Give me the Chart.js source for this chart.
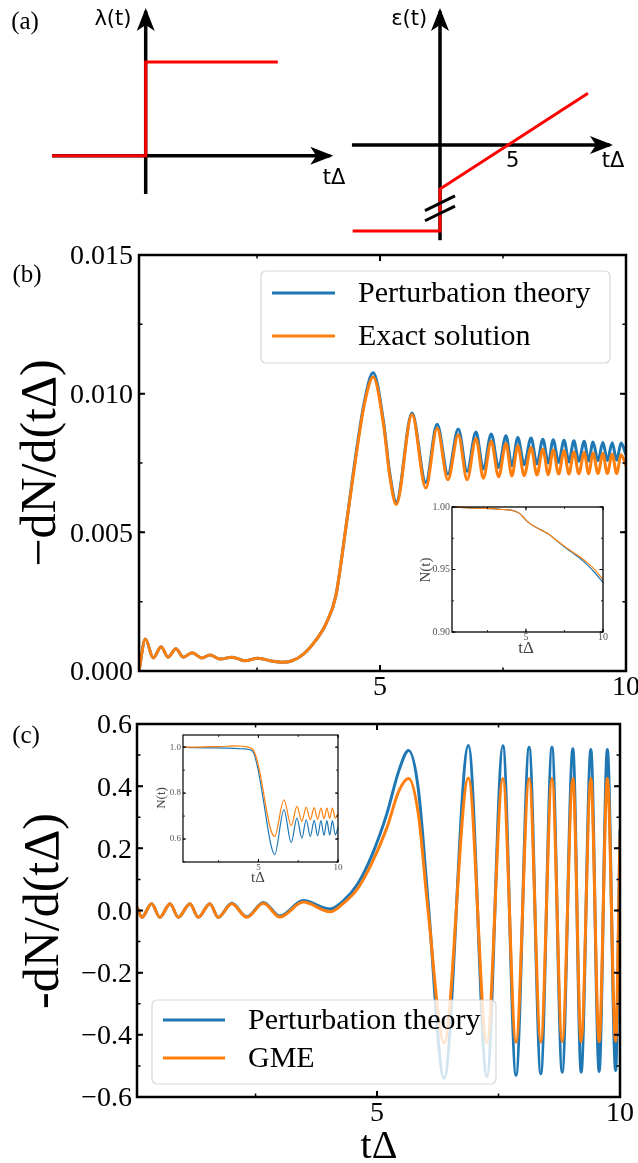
<!DOCTYPE html>
<html>
<head>
<meta charset="utf-8">
<title>Transition rate</title>
<script src="https://cdn.jsdelivr.net/npm/chart.js@4.4.1/dist/chart.umd.min.js"></script>
<style>
  html, body { margin: 0; padding: 0; background: #fff; }
  body { position: relative; width: 638px; height: 1163px; overflow: hidden; }
  canvas { position: absolute; }
</style>
</head>
<body>
<canvas id="lambdaPlot" width="360" height="200" style="left:0px;top:0px"></canvas>
<canvas id="epsPlot" width="298" height="245" style="left:340px;top:0px"></canvas>
<canvas id="rateB" width="638" height="470" style="left:0px;top:240px"></canvas>
<canvas id="insetB" width="230" height="170" style="left:400px;top:490px"></canvas>
<canvas id="rateC" width="638" height="463" style="left:0px;top:700px"></canvas>
<canvas id="insetC" width="215" height="165" style="left:140px;top:725px"></canvas>
<script>
// ---- (a) schematic protocols ----
const lambdaAxisT = [-1, 1.97];
const lambdaAxisV = [0, 0];
const lambdaVertV = [-0.41, 1.544];
const lambdaT = [-1, 0, 0, 1.41];
const lambdaV = [0, 0, 1, 1];

const epsAxisT = [-6.29, 12.14];
const epsAxisV = [0, 0];
const epsVertV = [-6.8, 9.57];
const epsT = [-6.24, 0, 0, 10.57];
const epsV = [-6.14, -6.14, -3.14, 3.7];
const breakT = [-1.07, 1.07];
const breakUpper = [-4.69, -3.64];
const breakLower = [-5.41, -4.36];

// ---- (b) rate, perturbation theory vs exact ----
const bTime = [0.1, 0.23, 0.39, 0.55, 0.69, 0.85, 1.0, 1.18, 1.38, 1.54,
  1.75, 1.99, 2.25, 2.52, 2.82, 3.0, 3.2, 3.45, 3.7, 3.9,
  4.1, 4.3, 4.5, 4.68, 4.86, 5.07, 5.2, 5.33, 5.65, 5.93,
  6.16, 6.38, 6.59, 6.77, 6.95, 7.1, 7.26, 7.41, 7.56, 7.68,
  7.8, 7.93, 8.07, 8.19, 8.31, 8.42, 8.52, 8.63, 8.74, 8.84,
  8.94, 9.04, 9.15, 9.24, 9.33, 9.43, 9.53, 9.62, 9.72, 9.81,
  9.9, 10.0];
const bPerturbation = [0, 0.00115, 0.00047, 0.00087, 0.0005, 0.0008, 0.0005, 0.00066, 0.00047, 0.00058,
  0.00043, 0.0005, 0.00037, 0.00046, 0.00035, 0.00032, 0.00036, 0.00062, 0.00112, 0.0017,
  0.0027, 0.0051, 0.0077, 0.0097, 0.01075, 0.009, 0.0071, 0.0061, 0.0093, 0.0068,
  0.0089, 0.0071, 0.00873, 0.0072, 0.00862, 0.00728, 0.00855, 0.00734, 0.00848, 0.0074,
  0.00842, 0.00744, 0.0084, 0.00747, 0.00836, 0.0075, 0.00834, 0.00752, 0.00832, 0.00754,
  0.0083, 0.00756, 0.00828, 0.00757, 0.00826, 0.00758, 0.00825, 0.00759, 0.00823, 0.0076,
  0.00822, 0.0078];
const bExact = [0, 0.00115, 0.00047, 0.00087, 0.0005, 0.0008, 0.0005, 0.00066, 0.00047, 0.00058,
  0.00043, 0.0005, 0.00037, 0.00046, 0.00035, 0.00032, 0.00036, 0.00062, 0.00112, 0.0017,
  0.0027, 0.0051, 0.0076, 0.0096, 0.0106, 0.0089, 0.007, 0.006, 0.00925, 0.0066,
  0.00875, 0.0069, 0.00852, 0.0069, 0.00838, 0.00695, 0.00828, 0.007, 0.0082, 0.00703,
  0.00812, 0.00705, 0.00806, 0.00707, 0.008, 0.00708, 0.00797, 0.0071, 0.00794, 0.0071,
  0.0079, 0.00711, 0.00788, 0.00711, 0.00786, 0.00712, 0.00784, 0.00712, 0.00782, 0.00712,
  0.0078, 0.0074];

const bInsetTime = [0.2, 1, 2, 3, 3.5, 4, 4.3, 4.6, 4.8, 5.0, 5.2, 5.5, 6, 6.5, 7, 7.5, 8, 8.5, 9, 9.5, 10];
const bInsetPerturbation = [1.0, 0.9995, 0.999, 0.9985, 0.998, 0.9975, 0.9966, 0.9947, 0.9922, 0.9895, 0.9873,
  0.9848, 0.9815, 0.978, 0.973, 0.968, 0.9635, 0.959, 0.9535, 0.947, 0.9395];
const bInsetExact = [1.0, 0.9995, 0.999, 0.9985, 0.998, 0.9975, 0.9966, 0.9947, 0.9922, 0.9895, 0.9873,
  0.9848, 0.9815, 0.978, 0.9732, 0.9685, 0.9642, 0.96, 0.9553, 0.9495, 0.9418];

// ---- (c) rate, perturbation theory vs GME ----
const cTime = [0.06, 0.16, 0.36, 0.53, 0.74, 0.91, 1.15, 1.32, 1.56, 1.73,
  2.01, 2.32, 2.66, 3.0, 3.48, 4.03, 4.3, 4.6, 4.9, 5.2,
  5.45, 5.65, 5.85, 6.05, 6.38, 6.88, 7.26, 7.59, 7.86, 8.13,
  8.37, 8.6, 8.81, 9.03, 9.2, 9.4, 9.57, 9.74, 9.91, 10.0];
const cPerturbation = [0.012, -0.022, 0.022, -0.022, 0.022, -0.022, 0.022, -0.022, 0.022, -0.022,
  0.023, -0.02, 0.026, -0.018, 0.032, 0.005, 0.03, 0.085, 0.18, 0.31,
  0.45, 0.515, 0.39, 0.03, -0.54, 0.531, -0.535, 0.53, -0.53, 0.525,
  -0.525, 0.525, -0.52, 0.52, -0.52, 0.518, -0.518, 0.518, -0.515, 0.26];
const cGME = [0.012, -0.022, 0.022, -0.022, 0.022, -0.022, 0.022, -0.022, 0.022, -0.022,
  0.022, -0.022, 0.023, -0.021, 0.027, -0.004, 0.022, 0.07, 0.155, 0.265,
  0.385, 0.425, 0.31, 0.0, -0.426, 0.426, -0.425, 0.425, -0.424, 0.425,
  -0.423, 0.425, -0.422, 0.425, -0.422, 0.425, -0.422, 0.425, -0.42, 0.24];

const cInsetTime = [0.28, 1.0, 2.0, 3.0, 3.5, 4.0, 4.4, 4.7, 5.0, 5.3,
  5.55, 5.8, 6.02, 6.6, 7.06, 7.42, 7.73, 8.0, 8.26, 8.5,
  8.72, 8.93, 9.12, 9.3, 9.48, 9.65, 9.83, 10.0];
const cInsetPerturbation = [1.0, 0.998, 0.997, 0.996, 0.995, 0.993, 0.99, 0.975, 0.895, 0.775,
  0.665, 0.57, 0.532, 0.727, 0.585, 0.691, 0.604, 0.684, 0.611, 0.681,
  0.614, 0.68, 0.616, 0.68, 0.617, 0.68, 0.618, 0.65];
const cInsetGME = [1.0, 1.0, 1.002, 1.004, 1.006, 1.004, 0.999, 0.985, 0.92, 0.81,
  0.71, 0.635, 0.611, 0.771, 0.658, 0.742, 0.677, 0.739, 0.684, 0.737,
  0.686, 0.735, 0.688, 0.735, 0.69, 0.735, 0.69, 0.712];

// tick labels
const timeTicks = ['5', '10'];
const bRateTicks = ['0.000', '0.005', '0.010', '0.015'];
const cRateTicks = ['\u22120.6', '\u22120.4', '\u22120.2', '0.0', '0.2', '0.4', '0.6'];
const bInsetTicks = ['0.90', '0.95', '1.00'];
const cInsetTicks = ['0.6', '0.8', '1.0'];

const BLUE = '#1f77b4';
const ORANGE = '#ff7f0e';
const RED = '#ff0000';
const SERIF = '"Liberation Serif", "DejaVu Serif", serif';
const SANS = '"DejaVu Sans", sans-serif';

const pts = (xs, ys) => xs.map((x, i) => ({ x: x, y: ys[i] }));
const toNum = s => parseFloat(String(s).replace('\u2212', '-'));

// order: lower values are painted later (on top)
function curve(label, xs, ys, color, width, order) {
  return {
    label: label, data: pts(xs, ys), borderColor: color, borderWidth: width,
    pointRadius: 0, fill: false, cubicInterpolationMode: 'monotone',
    borderJoinStyle: 'round', clip: 1, order: order
  };
}

function segment(xs, ys, color, width, order, arrow) {
  return {
    data: pts(xs, ys), borderColor: color, borderWidth: width,
    pointRadius: 0, fill: false, clip: false, order: order, arrow: !!arrow
  };
}

// box, inward ticks on all four sides, tick labels and titles
function framePlugin(cfg) {
  return {
    id: 'frame',
    beforeDatasetsDraw(chart) {
      if (!cfg.fill) return;
      const a = chart.chartArea, ctx = chart.ctx;
      ctx.save();
      ctx.fillStyle = cfg.fill;
      ctx.fillRect(a.left, a.top, a.right - a.left, a.bottom - a.top);
      ctx.restore();
    },
    afterDatasetsDraw(chart) {
      const ctx = chart.ctx, a = chart.chartArea;
      const sx = chart.scales.x, sy = chart.scales.y;
      const steps = (sc, step) => {
        const out = [];
        for (let k = Math.ceil(sc.min / step - 1e-6); k * step <= sc.max + 1e-9; k++) out.push(k * step);
        return out;
      };
      ctx.save();
      ctx.strokeStyle = '#000';
      const tickX = (v, len, w) => {
        const p = sx.getPixelForValue(v);
        ctx.lineWidth = w;
        ctx.beginPath();
        ctx.moveTo(p, a.bottom); ctx.lineTo(p, a.bottom - len);
        ctx.moveTo(p, a.top); ctx.lineTo(p, a.top + len);
        ctx.stroke();
      };
      const tickY = (v, len, w) => {
        const p = sy.getPixelForValue(v);
        ctx.lineWidth = w;
        ctx.beginPath();
        ctx.moveTo(a.left, p); ctx.lineTo(a.left + len, p);
        ctx.moveTo(a.right, p); ctx.lineTo(a.right - len, p);
        ctx.stroke();
      };
      steps(sx, cfg.xMinor).forEach(v => tickX(v, cfg.minorLen, cfg.minorWidth));
      steps(sy, cfg.yMinor).forEach(v => tickY(v, cfg.minorLen, cfg.minorWidth));
      cfg.xTicks.forEach(t => tickX(toNum(t), cfg.majorLen, cfg.majorWidth));
      cfg.yTicks.forEach(t => tickY(toNum(t), cfg.majorLen, cfg.majorWidth));
      ctx.lineWidth = cfg.spine;
      ctx.strokeRect(a.left, a.top, a.right - a.left, a.bottom - a.top);

      ctx.fillStyle = cfg.labelColor || '#000';
      ctx.font = cfg.tickFont;
      ctx.textAlign = 'center';
      ctx.textBaseline = 'middle';
      cfg.xTicks.forEach(t => ctx.fillText(t, sx.getPixelForValue(toNum(t)), a.bottom + cfg.xPad));
      ctx.textAlign = 'right';
      cfg.yTicks.forEach(t => ctx.fillText(t, a.left - cfg.yPad, sy.getPixelForValue(toNum(t)) + cfg.yShift));

      (cfg.texts || []).forEach(tx => {
        ctx.save();
        ctx.font = tx.font;
        ctx.fillStyle = tx.color || '#000';
        ctx.textAlign = 'center';
        ctx.textBaseline = 'middle';
        ctx.translate(tx.x, tx.y);
        if (tx.rotate) ctx.rotate(-Math.PI / 2);
        ctx.fillText(tx.text, 0, 0);
        ctx.restore();
      });
      ctx.restore();
    }
  };
}

// matplotlib-like framed legend, semi transparent
function legendPlugin(cfg) {
  return {
    id: 'boxLegend',
    afterDraw(chart) {
      const ctx = chart.ctx;
      const [x, y, w, h] = cfg.box;
      ctx.save();
      ctx.beginPath();
      if (ctx.roundRect) ctx.roundRect(x, y, w, h, 5); else ctx.rect(x, y, w, h);
      ctx.fillStyle = 'rgba(255,255,255,0.8)';
      ctx.fill();
      ctx.strokeStyle = 'rgba(204,204,204,0.8)';
      ctx.lineWidth = 1.2;
      ctx.stroke();
      ctx.font = cfg.font;
      ctx.textAlign = 'left';
      ctx.textBaseline = 'middle';
      chart.data.datasets.forEach((ds, i) => {
        const ry = cfg.rows[i];
        ctx.strokeStyle = ds.borderColor;
        ctx.lineWidth = ds.borderWidth;
        ctx.beginPath();
        ctx.moveTo(cfg.line[0], ry);
        ctx.lineTo(cfg.line[1], ry);
        ctx.stroke();
        ctx.fillStyle = '#000';
        ctx.fillText(ds.label, cfg.textX, ry + 1);
      });
      ctx.restore();
    }
  };
}

const arrowPlugin = {
  id: 'arrows',
  afterDatasetsDraw(chart) {
    const ctx = chart.ctx;
    chart.data.datasets.forEach((ds, i) => {
      if (!ds.arrow) return;
      const el = chart.getDatasetMeta(i).data;
      const p = el[el.length - 1], q = el[el.length - 2];
      const ang = Math.atan2(p.y - q.y, p.x - q.x);
      ctx.save();
      ctx.translate(p.x, p.y);
      ctx.rotate(ang);
      ctx.fillStyle = ds.borderColor;
      ctx.beginPath();
      ctx.moveTo(3, 0);
      ctx.lineTo(-20, -9);
      ctx.lineTo(-14, 0);
      ctx.lineTo(-20, 9);
      ctx.closePath();
      ctx.fill();
      ctx.restore();
    });
  }
};

function notesPlugin(items, panel) {
  return {
    id: 'notes',
    afterDraw(chart) {
      const ctx = chart.ctx;
      ctx.save();
      ctx.fillStyle = '#000';
      ctx.textAlign = 'center';
      ctx.textBaseline = 'middle';
      items.forEach(n => {
        ctx.font = n.font;
        ctx.fillText(n.text, chart.scales.x.getPixelForValue(n.x), chart.scales.y.getPixelForValue(n.y));
      });
      if (panel) {
        ctx.font = panel.font;
        ctx.fillText(panel.text, panel.px, panel.py);
      }
      ctx.restore();
    }
  };
}

function makeChart(id, datasets, xRange, yRange, padding, plugins) {
  return new Chart(document.getElementById(id), {
    type: 'line',
    data: { datasets: datasets },
    options: {
      responsive: false,
      animation: false,
      devicePixelRatio: 1,
      events: [],
      layout: { padding: padding },
      scales: {
        x: { type: 'linear', display: false, min: xRange[0], max: xRange[1] },
        y: { type: 'linear', display: false, min: yRange[0], max: yRange[1] }
      },
      plugins: { legend: { display: false }, tooltip: { enabled: false } }
    },
    plugins: plugins
  });
}

// (a) left: lambda(t)
makeChart('lambdaPlot', [
  segment(lambdaAxisT, lambdaAxisV, '#000', 3.5, 2, true),
  segment([0, 0], lambdaVertV, '#000', 3.5, 2, true),
  segment(lambdaT, lambdaV, RED, 3, 1)
], [-1.555, 2.287], [-0.473, 1.662], 0, [arrowPlugin, notesPlugin([
  { text: '\u03bb(t)', x: -0.35, y: 1.45, font: '21px ' + SANS },
  { text: 't\u0394', x: 2.01, y: -0.24, font: '21px ' + SANS }
], { text: '(a)', px: 25, py: 22, font: '25px ' + SERIF })]);

// (a) right: epsilon(t)
makeChart('epsPlot', [
  segment(epsAxisT, epsAxisV, '#000', 3.5, 2, true),
  segment([0, 0], epsVertV, '#000', 3.5, 2, true),
  segment(epsT, epsV, RED, 3, 1),
  segment(breakT, breakUpper, '#000', 3, 0),
  segment(breakT, breakLower, '#000', 3, 0)
], [-7.143, 14.143], [-7.143, 10.357], 0, [arrowPlugin, notesPlugin([
  { text: '\u03b5(t)', x: -2.2, y: 8.93, font: '21px ' + SANS },
  { text: '5', x: 5.2, y: -1.2, font: '21px ' + SANS },
  { text: 't\u0394', x: 12.36, y: -1.2, font: '21px ' + SANS }
])]);

// (b) main
makeChart('rateB', [
  curve('Perturbation theory', bTime, bPerturbation, BLUE, 3, 1),
  curve('Exact solution', bTime, bExact, ORANGE, 3, 0)
], [0.1, 10], [0, 0.015], { left: 139, right: 12, top: 15, bottom: 39 }, [
  framePlugin({
    xTicks: timeTicks, yTicks: bRateTicks, xMinor: 2.5, yMinor: 0.0025,
    spine: 2.5, majorLen: 6, minorLen: 3.5, majorWidth: 2, minorWidth: 1.5,
    tickFont: '28px ' + SERIF, xPad: 17, yPad: 6, yShift: 2,
    texts: [
      { text: '(b)', x: 27, y: 35, font: '25px ' + SERIF },
      { text: '\u2212dN/d(t\u0394)', x: 42, y: 223, rotate: true, font: '50px ' + SERIF }
    ]
  }),
  legendPlugin({ box: [261, 31, 349, 92], rows: [53, 96], line: [272, 335], textX: 358, font: '30px ' + SERIF })
]);

// (b) inset
makeChart('insetB', [
  curve('Perturbation theory', bInsetTime, bInsetPerturbation, BLUE, 1.2, 1),
  curve('Exact solution', bInsetTime, bInsetExact, ORANGE, 1.2, 0)
], [0.2, 10], [0.9, 1.0], { left: 52, right: 27, top: 17, bottom: 28 }, [
  framePlugin({
    xTicks: timeTicks, yTicks: bInsetTicks, xMinor: 2.5, yMinor: 0.025,
    spine: 1.3, majorLen: 3.5, minorLen: 2, majorWidth: 1, minorWidth: 0.8,
    tickFont: '10px ' + SERIF, labelColor: '#555', xPad: 5, yPad: 2, yShift: 0, fill: '#fff',
    texts: [
      { text: 'N(t)', x: 26, y: 80, rotate: true, font: '15px ' + SERIF, color: '#444' },
      { text: 't\u0394', x: 126, y: 159, font: '17px ' + SERIF, color: '#444' }
    ]
  })
]);

// (c) main
makeChart('rateC', [
  curve('Perturbation theory', cTime, cPerturbation, BLUE, 3, 1),
  curve('GME', cTime, cGME, ORANGE, 3, 0)
], [0.06, 10], [-0.6, 0.6], { left: 137, right: 18, top: 24, bottom: 66 }, [
  framePlugin({
    xTicks: timeTicks, yTicks: cRateTicks, xMinor: 2.5, yMinor: 0.1,
    spine: 2.5, majorLen: 6, minorLen: 3.5, majorWidth: 2, minorWidth: 1.5,
    tickFont: '28px ' + SERIF, xPad: 17, yPad: 5, yShift: 2,
    texts: [
      { text: '(c)', x: 26, y: 36, font: '25px ' + SERIF },
      { text: '-dN/d(t\u0394)', x: 45, y: 211, rotate: true, font: '50px ' + SERIF },
      { text: 't\u0394', x: 379, y: 447, font: '40px ' + SERIF }
    ]
  }),
  legendPlugin({ box: [152, 300, 344, 84], rows: [320, 358], line: [163, 225], textX: 248, font: '30px ' + SERIF })
]);

// (c) inset
makeChart('insetC', [
  curve('Perturbation theory', cInsetTime, cInsetPerturbation, BLUE, 1.2, 1),
  curve('GME', cInsetTime, cInsetGME, ORANGE, 1.2, 0)
], [0.26, 10], [0.5, 1.053], { left: 43, right: 17, top: 10, bottom: 28 }, [
  framePlugin({
    xTicks: timeTicks, yTicks: cInsetTicks, xMinor: 2.5, yMinor: 0.1,
    spine: 1.2, majorLen: 3, minorLen: 2, majorWidth: 1, minorWidth: 0.8,
    tickFont: '9px ' + SERIF, labelColor: '#555', xPad: 6, yPad: 2, yShift: 0, fill: '#fff',
    texts: [
      { text: 'N(t)', x: 22, y: 73, rotate: true, font: '13px ' + SERIF, color: '#444' },
      { text: 't\u0394', x: 118, y: 153, font: '15px ' + SERIF, color: '#444' }
    ]
  })
]);
</script>
</body>
</html>
